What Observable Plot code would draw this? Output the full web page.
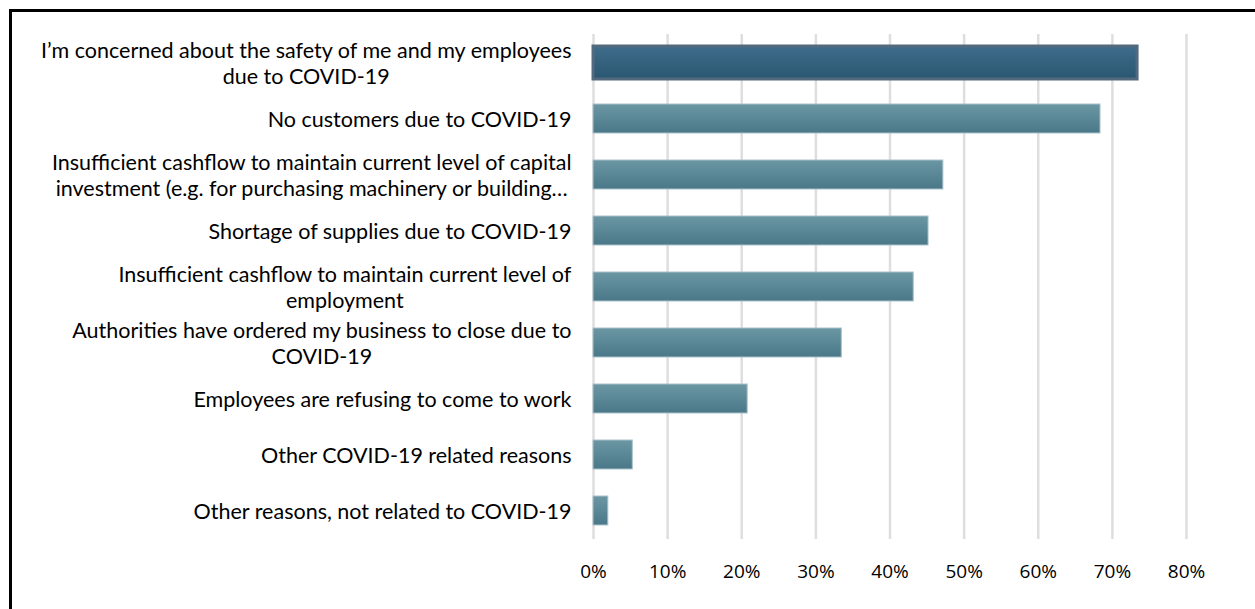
<!DOCTYPE html>
<html>
<head>
<meta charset="utf-8">
<script src="https://cdn.jsdelivr.net/npm/d3@7"></script>
<script src="https://cdn.jsdelivr.net/npm/@observablehq/plot@0.6"></script>
<style>
  html, body { margin: 0; padding: 0; background: #fff; overflow: hidden; width: 1255px; height: 609px; }
  #frame { position: absolute; left: 9px; top: 9px; width: 1300px; height: 700px; border: 3px solid #000; box-sizing: border-box; }
  #chart { position: absolute; left: 0; top: 0; }
</style>
</head>
<body>
<div id="frame"></div>
<div id="chart"></div>
<script>
const categories = [
  "I’m concerned about the safety of me and my employees\ndue to COVID-19",
  "No customers due to COVID-19",
  "Insufficient cashflow to maintain current level of capital\ninvestment (e.g. for purchasing machinery or building…",
  "Shortage of supplies due to COVID-19",
  "Insufficient cashflow to maintain current level of\nemployment",
  "Authorities have ordered my business to close due to\nCOVID-19",
  "Employees are refusing to come to work",
  "Other COVID-19 related reasons",
  "Other reasons, not related to COVID-19"
];
const values = [0.734, 0.684, 0.472, 0.452, 0.432, 0.335, 0.208, 0.053, 0.020];
const highlighted = [true, false, false, false, false, false, false, false, false];
const xTicks = [0, 0.1, 0.2, 0.3, 0.4, 0.5, 0.6, 0.7, 0.8];

const data = categories.map((c, i) => ({category: c, value: values[i], hi: highlighted[i]}));

const LABEL_FONT = "Lato, 'Open Sans', sans-serif";
const TICK_FONT = "'Open Sans', Lato, sans-serif";

function gradientDefs() {
  const defs = d3.create("svg:defs");
  const g1 = defs.append("linearGradient").attr("id", "gBar").attr("x1", 0).attr("y1", 0).attr("x2", 0).attr("y2", 1);
  g1.append("stop").attr("offset", "0%").attr("stop-color", "#6b97a4");
  g1.append("stop").attr("offset", "100%").attr("stop-color", "#4a7888");
  const g2 = defs.append("linearGradient").attr("id", "gHi").attr("x1", 0).attr("y1", 0).attr("x2", 0).attr("y2", 1);
  g2.append("stop").attr("offset", "0%").attr("stop-color", "#3e6d8b");
  g2.append("stop").attr("offset", "100%").attr("stop-color", "#2a5670");
  return defs.node();
}

const plot = Plot.plot({
  width: 1255,
  height: 609,
  marginLeft: 593,
  marginRight: 69,
  marginTop: 34,
  marginBottom: 70,
  style: {fontFamily: TICK_FONT, background: "transparent", overflow: "visible"},
  x: {domain: [0, 0.8], axis: null, label: null},
  y: {domain: categories, axis: null, paddingInner: 0.48, paddingOuter: 0.24},
  marks: [
    gradientDefs,
    Plot.ruleX(xTicks, {stroke: "#dedede", strokeWidth: 2.5}),
    Plot.barX(data.filter(d => !d.hi), {x: "value", y: "category", fill: "url(#gBar)", stroke: "#a9c2ca", strokeWidth: 1}),
    Plot.barX(data.filter(d => d.hi), {x: "value", y: "category", fill: "url(#gHi)", stroke: "#536a7e", strokeWidth: 3, insetTop: -2, insetBottom: -2}),
    Plot.axisX(xTicks, {tickSize: 0, tickPadding: 25, tickFormat: d3.format(".0%"), fontSize: 19, fill: "#000", label: null}),
    Plot.text(data, {x: 0, y: "category", text: "category", textAnchor: "middle", lineAnchor: "middle", lineHeight: 1.2, fontSize: 21.5, fontFamily: LABEL_FONT, fill: "#000", className: "ylabels"})
  ]
});

document.getElementById("chart").appendChild(plot);

// right-align each centred label block so its widest line ends just left of the axis
d3.select(plot).selectAll("g.ylabels text").each(function() {
  const w = this.getBBox().width;
  const t = this.getAttribute("transform") || "";
  this.setAttribute("transform", t + ` translate(${-22 - w / 2},0)`);
});
</script>
</body>
</html>
